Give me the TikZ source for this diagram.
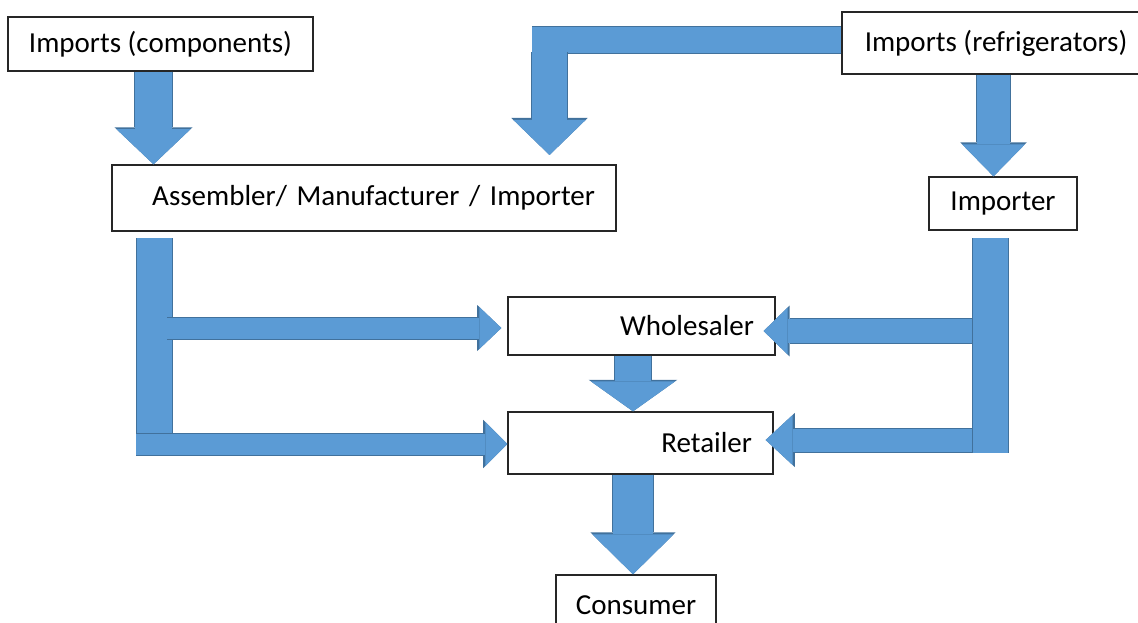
\documentclass[tikz,border=0pt]{standalone}
\usepackage{fontspec}
\setmainfont{Carlito}
\usepackage{tikz}
\usetikzlibrary{arrows.meta,positioning,calc}

\definecolor{flowfill}{RGB}{91,155,213}
\definecolor{flowline}{RGB}{65,113,156}

\tikzset{
  box/.style={draw=black!85, line width=1.3pt, fill=white, inner sep=2pt, font=\fontsize{29}{34}\selectfont},
  rbox/.style={box, align=right, inner xsep=21pt, text width=#1},
  bar/.style={draw=flowfill, line width=#1, preaction={draw=flowline, line width=#1+2pt}},
  flow/.style n args={3}{draw=flowfill, line width=#1,
    -{Triangle[width=0pt #2, length=0pt #3, line width=0pt]},
    preaction={draw=flowline, line width=#1+2pt, -{Triangle[width=0pt #2, length=0pt #3, line width=0pt]}}}
}

\begin{document}
\begin{tikzpicture}[x=1pt,y=-1pt]
\useasboundingbox (0,0) rectangle (1138,623);

\node[box, minimum width=305pt, minimum height=54pt] (comp) at (160.5,44) {Imports (components)};
\node[box, minimum width=308pt, minimum height=62pt] (refr) at (996,43) {Imports (refrigerators)};
\node[rbox=462pt, minimum height=66pt] (asm) at (364,198) {Assembler/ Manufacturer / Importer};
\node[box, minimum width=148pt, minimum height=53pt] (imp) at (1003,203.5) {Importer};
\node[rbox=225pt, minimum height=58pt] (whl) at (641.5,326) {Wholesaler};
\node[rbox=223pt, minimum height=62pt] (ret) at (640.5,443) {Retailer};
\node[box, minimum width=160pt, minimum height=60pt] (con) at (636,605) {Consumer};

% imports into the assembler and the importer
\coordinate (c1) at (153.5,0);
\draw[flow={37pt}{2}{0.95}] (c1 |- comp.south) -- (c1 |- asm.north);

\coordinate (bend) at (532,40);
\coordinate (drop) at (549.5,52);
\coordinate (droptip) at (549.5,155);
\draw[bar=26pt] (refr.west |- bend) -- (bend);
\draw[flow={35pt}{2.06}{1}] (drop) -- (droptip);

\coordinate (c3) at (993.5,0);
\draw[flow={33pt}{1.9}{0.97}] (c3 |- refr.south) -- (c3 |- imp.north);

% left branch
\coordinate (ltop) at (154.5,238);
\coordinate (lbot) at (154.5,433);
\coordinate (lmid) at (167,328);
\coordinate (llow) at (136,444);
\draw[bar=35pt] (ltop) -- (lbot);
\draw[flow={21pt}{2}{1.05}] (lmid) -- ($(lmid -| whl.west)+(-6,0)$);
\draw[flow={21pt}{2.1}{1.05}] (llow) -- (llow -| ret.west);

% right branch
\coordinate (rtop) at (990.5,238);
\coordinate (rbot) at (990.5,453);
\coordinate (rmid) at (973,331);
\coordinate (rlow) at (973,440);
\draw[flow={24pt}{1.96}{1}] (rmid) -- ($(rmid -| whl.east)+(-12,0)$);
\draw[flow={23pt}{2.17}{1.17}] (rlow) -- ($(rlow -| ret.east)+(-8,0)$);
\draw[bar=35pt] (rtop) -- (rbot);

% down to the consumer
\coordinate (c8) at (633,0);
\draw[flow={36pt}{2.33}{0.83}] (c8 |- whl.south) -- (c8 |- ret.north);
\draw[flow={40pt}{2.03}{1}] (c8 |- ret.south) -- (c8 |- con.north);

\end{tikzpicture}
\end{document}
